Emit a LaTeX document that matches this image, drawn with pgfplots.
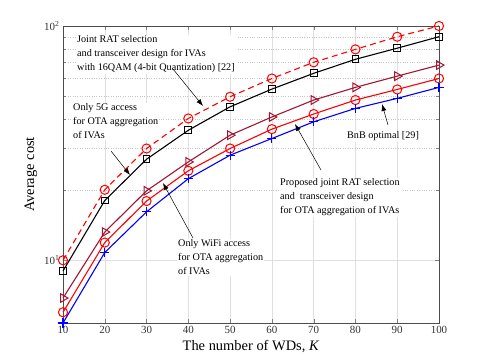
\documentclass[border=0pt]{standalone}
\usepackage{fontspec}
\setmainfont{Liberation Serif}
\usepackage{pgfplots}
\pgfplotsset{compat=1.18}
\usetikzlibrary{arrows.meta}
\definecolor{maroon}{rgb}{0.635,0.078,0.184}
\begin{document}
\begin{tikzpicture}
\useasboundingbox (0,0) rectangle (485bp,363bp);
\begin{axis}[
  at={(63bp,40bp)}, anchor=south west,
  scale only axis,
  width=376bp, height=297bp,
  ymode=log,
  xmin=10, xmax=100, ymin=5.4, ymax=100,
  xtick={10,20,...,100},
  ytick={10,100},
  yticklabels={10\textsuperscript{1},10\textsuperscript{2}},
  /pgf/number format/assume math mode=true,
  tick label style={font=\fontsize{11}{11}\selectfont, text=black!80},
  label style={font=\fontsize{14.5}{15}\selectfont},
  xlabel={The number of WDs, \textit{K}},
  ylabel={Average cost},
  tick align=inside,
  grid=both,
  major grid style={draw=gray!25},
  minor grid style={draw=gray!45, dotted},
  axis line style={draw=black!70},
  every axis plot/.append style={line width=1.1pt},
  clip=false,
]
\addplot[red, dashed, dash pattern=on 6pt off 4pt, mark=o, mark size=4.6pt, mark options={solid, line width=1pt}]
  coordinates {(10,10)(20,20)(30,30)(40,40.3)(50,49.9)(60,59.7)(70,70)(80,79.5)(90,90)(100,100)};
\addplot[black, mark=square, mark size=3.4pt, mark options={line width=1pt}]
  coordinates {(10,9.0)(20,18)(30,27)(40,35.9)(50,45.2)(60,53.8)(70,62.8)(80,72.1)(90,80.4)(100,90)};
\addplot[maroon, mark=triangle, mark size=5pt, mark options={rotate=-90, line width=1pt}]
  coordinates {(10,6.9)(20,13.2)(30,19.8)(40,26.3)(50,34.2)(60,40.9)(70,48.3)(80,54.7)(90,61.1)(100,68.1)};
\addplot[red, mark=o, mark size=4.6pt, mark options={line width=1pt}]
  coordinates {(10,6.0)(20,11.9)(30,17.9)(40,24.1)(50,30)(60,36.3)(70,42.1)(80,48.3)(90,53.6)(100,59.7)};
\addplot[blue, mark=+, mark size=4.6pt, mark options={line width=1.1pt}]
  coordinates {(10,5.4)(20,10.8)(30,16.1)(40,22.3)(50,28.1)(60,33.1)(70,39)(80,44.5)(90,49.1)(100,54.7)};
\end{axis}
% annotations (pixel positions, y measured from top)
\begin{scope}[every node/.style={font=\fontsize{10.2}{14}\selectfont, anchor=north west,
    align=left, fill=white, inner sep=1bp},
  arr/.style={-{Latex[length=7pt,width=5pt]}, line width=0.5pt}]
\node at (76bp,{(363-34.5)*1bp}) {Joint RAT selection\\and transceiver design for IVAs\\with 16QAM (4-bit Quantization) [22]};
\node at (72bp,{(363-102.5)*1bp}) {Only 5G access\\for OTA aggregation\\of IVAs};
\node at (346bp,{(363-130.5)*1bp}) {BnB optimal [29]};
\node at (279bp,{(363-177.5)*1bp}) {Proposed joint RAT selection\\and \ transceiver design\\for OTA aggregation of IVAs};
\node at (177bp,{(363-238.5)*1bp}) {Only WiFi access\\for OTA aggregation\\of IVAs};
\draw[arr] (173bp,{(363-69)*1bp}) -- (203bp,{(363-106)*1bp});
\draw[arr] (111bp,{(363-151)*1bp}) -- (130bp,{(363-175)*1bp});
\draw[arr] (388bp,{(363-125)*1bp}) -- (382bp,{(363-104)*1bp});
\draw[arr] (321bp,{(363-170)*1bp}) -- (295bp,{(363-124)*1bp});
\draw[arr] (193bp,{(363-238)*1bp}) -- (163bp,{(363-183)*1bp});
\end{scope}
\end{tikzpicture}
\end{document}
